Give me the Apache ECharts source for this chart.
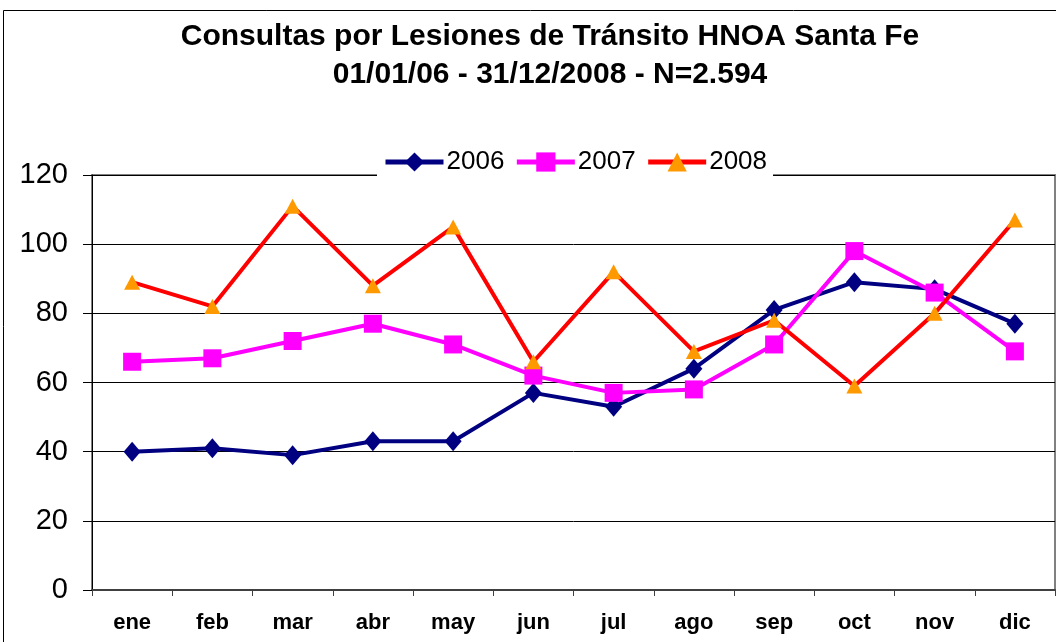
<!DOCTYPE html>
<html>
<head>
<meta charset="utf-8">
<script src="https://cdn.jsdelivr.net/npm/echarts@6/dist/echarts.min.js"></script>
<style>
    body { margin: 0; background: #fff; }
    #main { width: 1056px; height: 642px; }
</style>
</head>
<body>
<div id="main"></div>
<script>
var meses = ['ene', 'feb', 'mar', 'abr', 'may', 'jun', 'jul', 'ago', 'sep', 'oct', 'nov', 'dic'];
var anios = ['2006', '2007', '2008'];
var datos2006 = [40, 41, 39, 43, 43, 57, 53, 64, 81, 89, 87, 77];
var datos2007 = [66, 67, 72, 77, 71, 62, 57, 58, 71, 98, 86, 69];
var datos2008 = [89, 82, 111, 88, 105, 66, 92, 69, 78, 59, 80, 107];

var chart = echarts.init(document.getElementById('main'));
var fuente = '"Liberation Sans", Arial, sans-serif';

var option = {
    backgroundColor: '#fff',
    animation: false,
    title: {
        text: 'Consultas por Lesiones de Tránsito HNOA Santa Fe\n01/01/06 - 31/12/2008 - N=2.594',
        left: 545,
        textAlign: 'center',
        top: 13,
        textStyle: {
            fontFamily: fuente,
            fontWeight: 'bold',
            fontSize: 30,
            lineHeight: 38,
            color: '#000'
        }
    },
    legend: {
        data: anios,
        left: 377,
        top: 149,
        padding: [0, 6, 5, 6],
        backgroundColor: '#fff',
        itemWidth: 58,
        itemHeight: 24,
        itemGap: 10,
        lineStyle: {width: 5},
        textStyle: {fontFamily: fuente, fontSize: 26, color: '#000', padding: [2, 0, 0, -2]}
    },
    grid: {
        left: 92, right: 1, top: 175, bottom: 52,
        show: true,
        borderColor: '#808080',
        borderWidth: 2
    },
    xAxis: {
        type: 'category',
        data: meses,
        boundaryGap: true,
        axisLine: {lineStyle: {color: '#404040', width: 2}},
        axisTick: {show: true, inside: false, length: 6, lineStyle: {color: '#404040'}},
        axisLabel: {
            fontFamily: fuente, fontWeight: 'bold', fontSize: 22, color: '#000', margin: 22
        }
    },
    yAxis: {
        type: 'value',
        min: 0, max: 120, interval: 20,
        axisLine: {show: true, lineStyle: {color: '#000', width: 1}},
        axisTick: {show: true, inside: false, length: 9, lineStyle: {color: '#000'}},
        axisLabel: {fontFamily: fuente, fontSize: 29, color: '#000', margin: 24},
        splitLine: {lineStyle: {color: '#000', width: 1}}
    },
    graphic: [{
        type: 'rect',
        silent: true,
        shape: {x: 3.5, y: 10.5, width: 1060, height: 640},
        style: {fill: 'none', stroke: '#000', lineWidth: 1}
    }],
    series: [
        {
            name: '2006', type: 'line', data: datos2006,
            symbol: 'diamond', symbolSize: [17, 20],
            lineStyle: {color: '#000080', width: 4},
            itemStyle: {color: '#000080'}
        },
        {
            name: '2007', type: 'line', data: datos2007,
            symbol: 'rect', symbolSize: 18,
            lineStyle: {color: '#FF00FF', width: 4},
            itemStyle: {color: '#FF00FF'}
        },
        {
            name: '2008', type: 'line', data: datos2008,
            symbol: 'triangle', symbolSize: [16, 15],
            lineStyle: {color: '#FF0000', width: 4},
            itemStyle: {color: '#FF9900'}
        }
    ]
};

chart.setOption(option);
</script>
</body>
</html>
